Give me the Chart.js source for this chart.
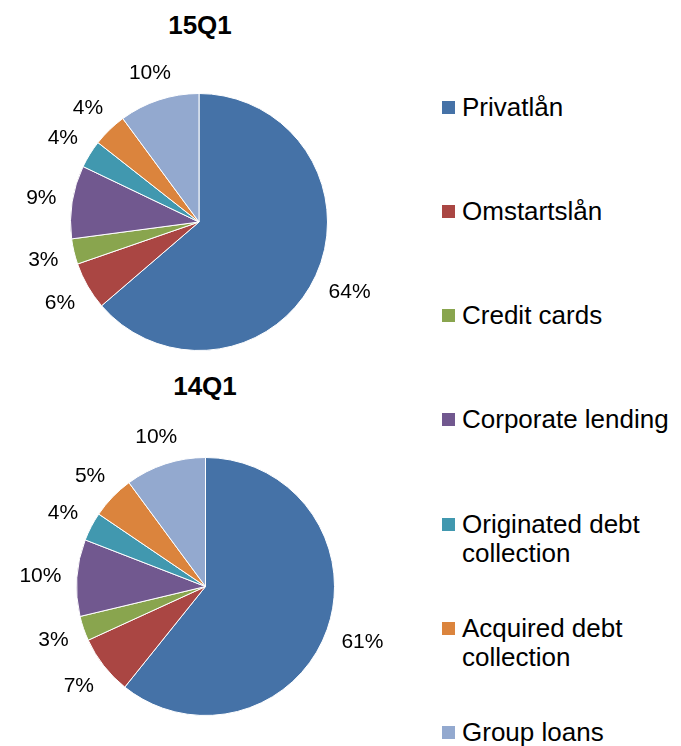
<!DOCTYPE html>
<html>
<head>
<meta charset="utf-8">
<script src="https://cdn.jsdelivr.net/npm/chart.js@4.4.0/dist/chart.umd.min.js"></script>
<style>
  body { margin: 0; background: #fff; font-family: "Liberation Sans", Arial, sans-serif; }
  #wrap { position: relative; width: 681px; height: 746px; overflow: hidden; }
  canvas { position: absolute; }
  .ttl { position: absolute; width: 200px; text-align: center; font-weight: bold; font-size: 26px; line-height: 30px; color: #000; }
  .item { position: absolute; left: 442px; font-size: 26px; line-height: 29px; color: #000; }
  .item i { position: absolute; left: 0; top: 8px; width: 13px; height: 13px; }
  .item span { display: block; margin-left: 20px; width: 216px; }
</style>
</head>
<body>
<div id="wrap">
  <div class="ttl" style="left:100px; top:10px;">15Q1</div>
  <div class="ttl" style="left:105px; top:371px;">14Q1</div>
  <canvas id="pie15" width="420" height="370" style="left:0; top:0;"></canvas>
  <canvas id="pie14" width="420" height="376" style="left:0; top:370px;"></canvas>
  <div id="legend"></div>
</div>
<script>
// kategorier och andelar (%)
var categories = ['Privatlån', 'Omstartslån', 'Credit cards', 'Corporate lending',
  'Originated debt collection', 'Acquired debt collection', 'Group loans'];
var share15Q1 = [63.7, 6.0, 3.2, 9.2, 3.5, 4.3, 10.1];
var share14Q1 = [60.7, 7.4, 3.1, 9.6, 3.6, 5.4, 10.1];
var colors = ['#4572A7', '#AA4643', '#89A54E', '#71588F', '#4198AF', '#DB843D', '#93A9CF'];

// procentetiketter utanför tårtbitarna
var outsideLabels = {
  id: 'outsideLabels',
  afterDatasetsDraw: function(chart) {
    var ctx = chart.ctx;
    var meta = chart.getDatasetMeta(0);
    var vals = chart.data.datasets[0].data;
    var total = vals.reduce(function(a, b) { return a + b; }, 0);
    ctx.save();
    ctx.font = '21px "Liberation Sans", Arial, sans-serif';
    ctx.fillStyle = '#000';
    ctx.textAlign = 'center';
    ctx.textBaseline = 'middle';
    meta.data.forEach(function(arc, i) {
      var p = arc.getProps(['x', 'y', 'startAngle', 'endAngle', 'outerRadius'], true);
      var mid = (p.startAngle + p.endAngle) / 2;
      var txt = Math.round(vals[i] / total * 100) + '%';
      var w = ctx.measureText(txt).width;
      var c = Math.cos(mid), s = Math.sin(mid);
      var d = p.outerRadius + 15 + Math.abs(c) * w / 2 + Math.abs(s) * 7.5;
      ctx.fillText(txt, p.x + c * d, p.y + s * d + 1);
    });
    ctx.restore();
  }
};

function makePie(id, values, pad) {
  return new Chart(document.getElementById(id), {
    type: 'pie',
    data: {
      labels: categories,
      datasets: [{
        data: values,
        backgroundColor: colors,
        borderColor: '#ffffff',
        borderWidth: 1,
        hoverOffset: 0
      }]
    },
    options: {
      responsive: false,
      animation: false,
      layout: { padding: pad },
      plugins: { legend: { display: false }, tooltip: { enabled: false } }
    },
    plugins: [outsideLabels]
  });
}

makePie('pie15', share15Q1, { left: 70, right: 92, top: 93, bottom: 19 });
makePie('pie14', share14Q1, { left: 76, right: 85, top: 87, bottom: 30 });

// förklaring till höger
var legend = document.getElementById('legend');
categories.forEach(function(name, i) {
  var div = document.createElement('div');
  div.className = 'item';
  div.style.top = (92.5 + i * 104.33) + 'px';
  div.innerHTML = '<i style="background:' + colors[i] + '"></i><span>' + name + '</span>';
  legend.appendChild(div);
});
</script>
</body>
</html>
